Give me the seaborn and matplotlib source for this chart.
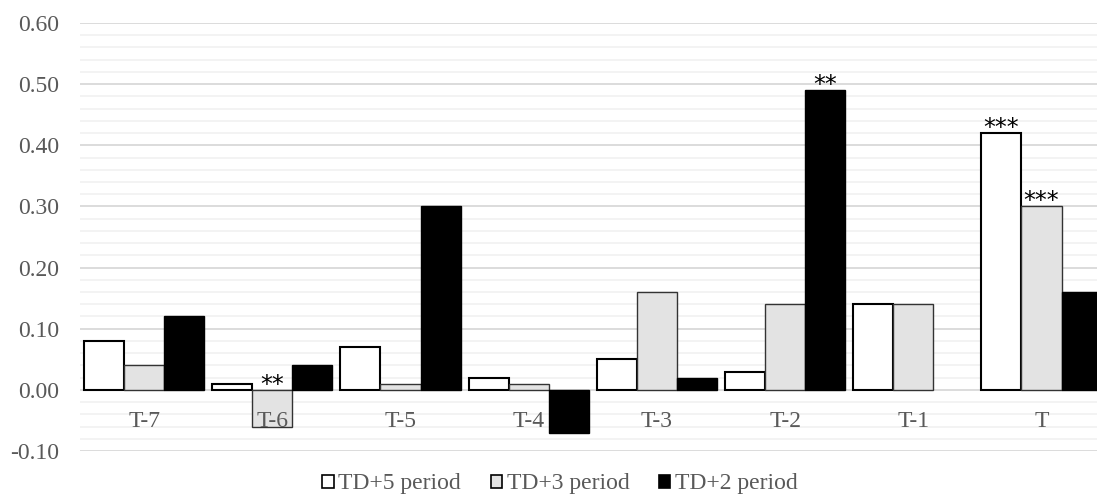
import numpy as np
import pandas as pd
import seaborn as sns
import matplotlib
matplotlib.use("Agg")
import matplotlib.pyplot as plt
from matplotlib.patches import Patch
from matplotlib.ticker import MultipleLocator, FormatStrFormatter

# Event-window periods and the three abnormal-return series
periods = ["T-7", "T-6", "T-5", "T-4", "T-3", "T-2", "T-1", "T"]
series = ["TD+5 period", "TD+3 period", "TD+2 period"]
td5 = [0.08, 0.01, 0.07, 0.02, 0.05, 0.03, 0.14, 0.42]
td3 = [0.04, -0.06, 0.01, 0.01, 0.16, 0.14, 0.14, 0.30]
td2 = [0.12, 0.04, 0.30, -0.07, 0.02, 0.49, 0.00, 0.16]
# significance markers: (period, series, stars)
stars = [("T-6", "TD+3 period", "**"),
         ("T-2", "TD+2 period", "**"),
         ("T", "TD+5 period", "***"),
         ("T", "TD+3 period", "***")]

df = pd.DataFrame({
    "period": periods * 3,
    "series": [s for s in series for _ in periods],
    "value": td5 + td3 + td2,
})

sns.set_theme(style="white")
plt.rcParams["font.family"] = ["Liberation Serif", "DejaVu Serif"]

fills = {"TD+5 period": "#ffffff", "TD+3 period": "#e3e3e3", "TD+2 period": "#000000"}
edges = {"TD+5 period": ("#000000", 1.5), "TD+3 period": ("#333333", 1.0),
         "TD+2 period": ("#000000", 1.0)}

fig = plt.figure(figsize=(10.97, 4.95), dpi=100)
ax = fig.add_axes([80 / 1097, 44 / 495, 1025.6 / 1097, 428 / 495])

sns.barplot(data=df, x="period", y="value", hue="series", order=periods,
            hue_order=series, palette=fills, width=0.9375, saturation=1,
            legend=False, ax=ax, zorder=3)

for cont, name in zip(ax.containers, series):
    ec, lw = edges[name]
    for bar in cont:
        bar.set_edgecolor(ec)
        bar.set_linewidth(lw if bar.get_height() != 0 else 0)

# significance stars
for per, ser, txt in stars:
    ci = series.index(ser)
    bi = periods.index(per)
    bar = ax.containers[ci][bi]
    xc = bar.get_x() + bar.get_width() / 2
    y = max(bar.get_height(), 0)
    ax.annotate(txt, (xc, y), xytext=(0, -5), textcoords="offset points",
                ha="center", va="bottom", fontsize=17, color="black", zorder=5,
                family="DejaVu Sans")

# category labels sit just under the zero line, drawn over the bars
for i, per in enumerate(periods):
    ax.annotate(per, (i, 0), xytext=(0, -15), textcoords="offset points",
                ha="center", va="top", fontsize=17, color="#595959", zorder=6)

ax.set_ylim(-0.10, 0.60)
ax.set_xlim(-0.5, len(periods) - 0.5)
ax.yaxis.set_major_locator(MultipleLocator(0.1))
ax.yaxis.set_minor_locator(MultipleLocator(0.02))
ax.yaxis.set_major_formatter(FormatStrFormatter("%.2f"))
ax.grid(which="major", axis="y", color="#d9d9d9", linewidth=1.3, zorder=0)
ax.grid(which="minor", axis="y", color="#f2f2f2", linewidth=1.3, zorder=0)
ax.set_axisbelow(True)

for side in ["top", "right", "left", "bottom"]:
    ax.spines[side].set_visible(False)

ax.tick_params(axis="y", which="both", length=0, labelsize=17, labelcolor="#595959", pad=15)
ax.set_xticks([])
ax.set_xlabel("")
ax.set_ylabel("")

handles = [Patch(facecolor=fills[s], edgecolor="black", linewidth=1.2, label=s) for s in series]
fig.legend(handles=handles, loc="center", bbox_to_anchor=(560 / 1097, 1 - 484 / 495),
           ncol=3, frameon=False, fontsize=17, labelcolor="#595959",
           handlelength=0.48, handleheight=0.48, handletextpad=0.2, columnspacing=1.25)

fig.savefig("out.png", dpi=100)
